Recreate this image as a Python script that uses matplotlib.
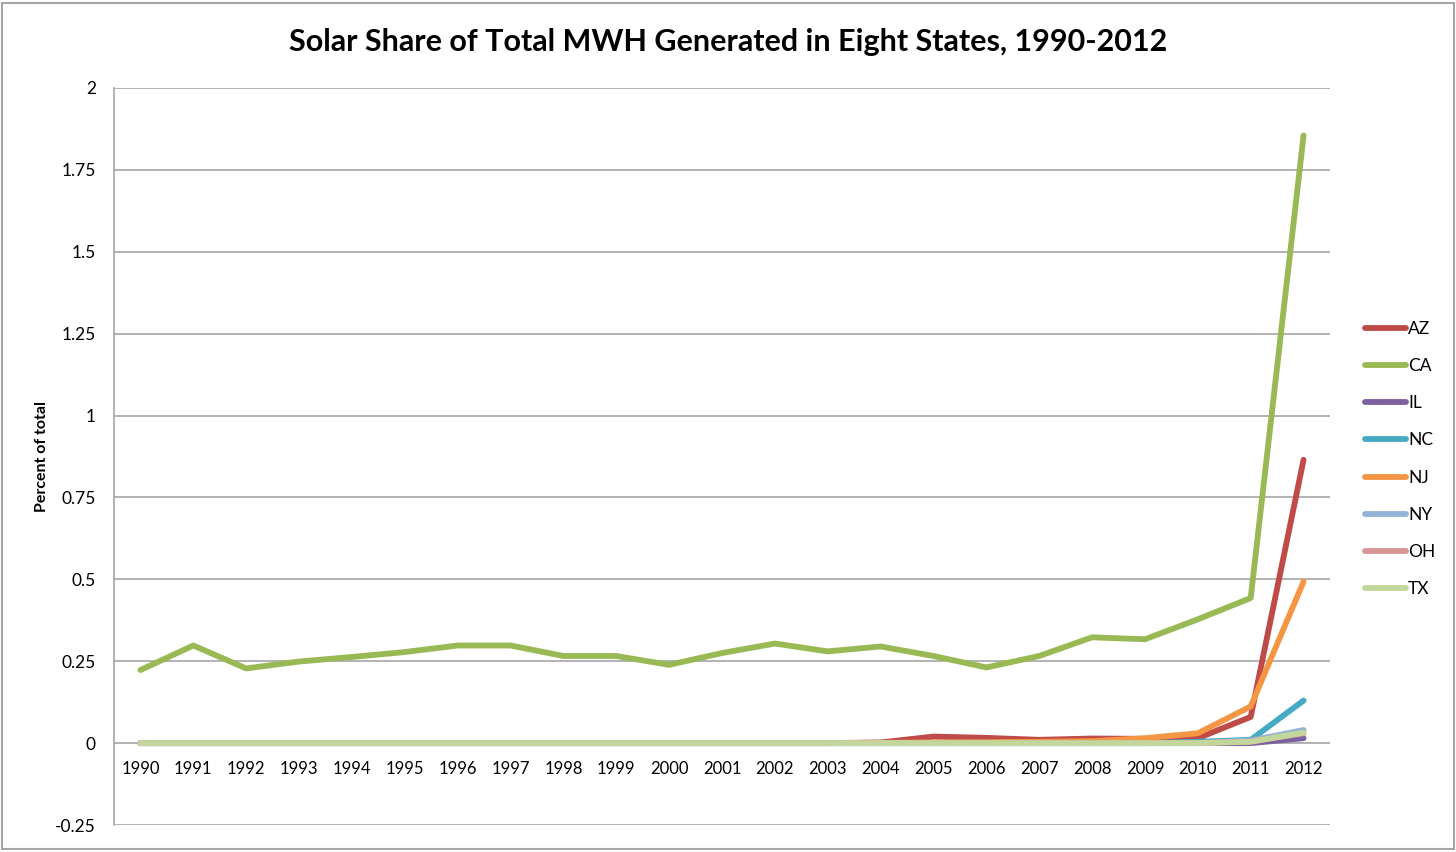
#!/usr/bin/env python
# solar share of total MWH generated, eight states 1990-2012

import matplotlib
matplotlib.use("Agg")
import matplotlib.pyplot as plt
from matplotlib.patches import Rectangle

years = [str(y) for y in range(1990, 2013)]

az = [0, 0, 0, 0, 0, 0, 0, 0, 0, 0, 0, 0, 0, 0, 0.002, 0.02, 0.016, 0.01,
      0.014, 0.013, 0.015, 0.08, 0.865]
ca = [0.223, 0.298, 0.228, 0.249, 0.263, 0.278, 0.298, 0.298, 0.266, 0.266,
      0.239, 0.275, 0.304, 0.28, 0.295, 0.266, 0.231, 0.266, 0.323, 0.317,
      0.378, 0.443, 1.855]
il = [0] * 22 + [0.015]
nc = [0] * 20 + [0.004, 0.01, 0.13]
nj = [0, 0, 0, 0, 0, 0, 0, 0, 0, 0, 0, 0, 0, 0, 0.001, 0.002, 0.003, 0.004,
      0.006, 0.015, 0.03, 0.112, 0.493]
ny = [0] * 21 + [0.008, 0.04]
oh = [0] * 21 + [0.005, 0.03]
tx = [0] * 21 + [0.004, 0.032]

states = ['AZ', 'CA', 'IL', 'NC', 'NJ', 'NY', 'OH', 'TX']
series = [az, ca, il, nc, nj, ny, oh, tx]
colors = ['#BE4B48', '#98B954', '#7D60A0', '#46AAC5', '#F59645', '#95B3D7',
          '#D99694', '#C3D69B']

plt.rcParams['font.family'] = ['Lato', 'DejaVu Sans']

fig = plt.figure(figsize=(14.56, 8.52), dpi=100)
ax = fig.add_axes([114 / 1456, 1 - 825 / 852, 1216 / 1456, 737 / 852])

x = range(len(years))
for name, vals, c in zip(states, series, colors):
    ax.plot(x, vals, color=c, lw=4.2, solid_capstyle='round',
            solid_joinstyle='round', label=name)

ax.set_xlim(-0.5, len(years) - 0.5)
ax.set_ylim(-0.25, 2)
ax.set_yticks([-0.25, 0, 0.25, 0.5, 0.75, 1, 1.25, 1.5, 1.75, 2])
ax.set_yticklabels(['-0.25', '0', '0.25', '0.5', '0.75', '1', '1.25', '1.5',
                    '1.75', '2'])
ax.grid(axis='y', color='#A6A6A6', lw=1.2)
ax.set_axisbelow(True)
for s in ['top', 'right', 'bottom']:
    ax.spines[s].set_visible(False)
ax.spines['left'].set_color('#A6A6A6')
ax.spines['left'].set_linewidth(1.2)
ax.tick_params(axis='y', length=0, pad=13, labelsize=12.5)

# category labels sit just under the zero line
ax.set_xticks([])
for i, yr in enumerate(years):
    ax.text(i, -0.08, yr, ha='center', va='center', fontsize=12)

fig.text(42 / 1456, 1 - 457 / 852, 'Percent of total', rotation=90,
         ha='center', va='center', fontsize=11.5, fontweight='bold')

fig.text(0.5, 1 - 42 / 852, 'Solar Share of Total MWH Generated in Eight States, 1990-2012',
         ha='center', va='center', fontsize=22, fontweight='bold')

leg = fig.legend(loc='center left', bbox_to_anchor=(1349 / 1456, 1 - 459 / 852),
                 frameon=False, fontsize=12.5, handlelength=2.4,
                 handletextpad=0.1, labelspacing=1.22)

fig.patches.append(Rectangle((2 / 1456, 3 / 852), 1452 / 1456, 846 / 852,
                             transform=fig.transFigure, fill=False,
                             edgecolor='#A6A6A6', lw=1.5))

fig.savefig('out.png', dpi=100)
